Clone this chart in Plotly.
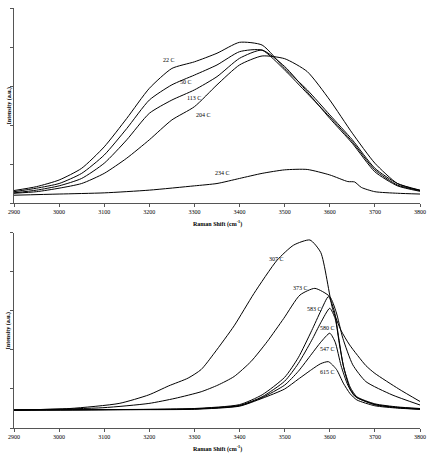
import plotly.graph_objects as go

# ---------------- data (top panel) ----------------
top_x = [2900, 2950, 3000, 3050, 3100, 3150, 3200, 3250, 3300, 3350, 3400, 3450, 3500, 3550, 3600, 3650, 3700, 3750, 3800]
t22 = [0.32, 0.42, 0.59, 0.89, 1.44, 2.17, 2.94, 3.45, 3.62, 3.84, 4.12, 4.05, 3.45, 2.90, 2.26, 1.62, 0.89, 0.50, 0.33]
t50 = [0.29, 0.38, 0.50, 0.76, 1.23, 1.91, 2.64, 3.03, 3.28, 3.54, 3.88, 3.92, 3.41, 2.81, 2.21, 1.57, 0.85, 0.46, 0.32]
t113 = [0.26, 0.33, 0.44, 0.63, 1.02, 1.62, 2.30, 2.64, 2.90, 3.24, 3.71, 3.92, 3.50, 2.85, 2.17, 1.53, 0.80, 0.44, 0.30]
t204 = [0.25, 0.29, 0.38, 0.50, 0.76, 1.15, 1.62, 2.13, 2.47, 3.03, 3.54, 3.77, 3.70, 3.37, 2.64, 1.79, 1.02, 0.50, 0.32]
t234_x = [2900, 3000, 3100, 3200, 3300, 3350, 3400, 3450, 3500, 3550, 3600, 3640, 3655, 3670, 3700, 3750, 3800]
t234 = [0.20, 0.23, 0.26, 0.33, 0.44, 0.50, 0.63, 0.76, 0.85, 0.86, 0.72, 0.55, 0.54, 0.40, 0.29, 0.25, 0.23]
top_names = ["22 C", "50 C", "113 C", "204 C", "234 C"]

# ---------------- data (bottom panel) ----------------
b307_x = [2900, 3024, 3133, 3199, 3243, 3286, 3315, 3344, 3388, 3432, 3483, 3520, 3556, 3580, 3606, 3625, 3644, 3680, 3700, 3753, 3800]
b307 = [0.46, 0.50, 0.63, 0.85, 1.08, 1.28, 1.50, 1.92, 2.62, 3.45, 4.30, 4.69, 4.82, 4.50, 3.07, 2.50, 2.13, 1.60, 1.40, 1.00, 0.68]
b373_x = [2900, 3097, 3199, 3257, 3315, 3352, 3388, 3425, 3461, 3498, 3534, 3567, 3600, 3614, 3629, 3651, 3680, 3738, 3800]
b373 = [0.46, 0.52, 0.63, 0.76, 0.93, 1.10, 1.32, 1.70, 2.21, 2.81, 3.41, 3.58, 3.37, 2.98, 2.30, 1.62, 1.19, 0.85, 0.59]
b583_x = [2900, 3100, 3300, 3400, 3450, 3500, 3530, 3560, 3580, 3597, 3610, 3620, 3630, 3645, 3660, 3700, 3750, 3800]
b583 = [0.46, 0.47, 0.50, 0.60, 0.85, 1.30, 1.80, 2.50, 3.00, 3.37, 3.00, 2.30, 1.60, 1.05, 0.80, 0.62, 0.54, 0.50]
b580_x = [2900, 3100, 3300, 3400, 3450, 3500, 3530, 3560, 3580, 3600, 3612, 3622, 3632, 3645, 3660, 3700, 3750, 3800]
b580 = [0.46, 0.47, 0.49, 0.58, 0.80, 1.20, 1.65, 2.25, 2.70, 3.07, 2.80, 2.10, 1.50, 1.00, 0.78, 0.60, 0.53, 0.49]
b547_x = [2900, 3100, 3300, 3400, 3450, 3500, 3530, 3560, 3580, 3600, 3612, 3625, 3640, 3655, 3700, 3750, 3800]
b547 = [0.46, 0.47, 0.49, 0.57, 0.78, 1.10, 1.45, 1.90, 2.20, 2.43, 2.20, 1.60, 1.10, 0.82, 0.60, 0.52, 0.48]
b615_x = [2900, 3100, 3300, 3400, 3450, 3500, 3530, 3560, 3580, 3597, 3615, 3630, 3645, 3660, 3700, 3750, 3800]
b615 = [0.46, 0.47, 0.48, 0.56, 0.76, 1.00, 1.25, 1.50, 1.65, 1.70, 1.50, 1.15, 0.88, 0.72, 0.57, 0.51, 0.48]
bot_names = ["307 C", "373 C", "583 C", "580 C", "547 C", "615 C"]

x_ticks = [2900, 3000, 3100, 3200, 3300, 3400, 3500, 3600, 3700, 3800]

FONT = "Liberation Serif"
LINE = dict(color="black", width=1, shape="spline", smoothing=0.6)

fig = go.Figure()
top_series = [(top_x, t22), (top_x, t50), (top_x, t113), (top_x, t204), (t234_x, t234)]
for (xs, ys), nm in zip(top_series, top_names):
    fig.add_trace(go.Scatter(x=xs, y=ys, mode="lines", line=LINE, name=nm, xaxis="x", yaxis="y"))
bot_series = [(b307_x, b307), (b373_x, b373), (b583_x, b583), (b580_x, b580), (b547_x, b547), (b615_x, b615)]
for (xs, ys), nm in zip(bot_series, bot_names):
    fig.add_trace(go.Scatter(x=xs, y=ys, mode="lines", line=LINE, name=nm, xaxis="x2", yaxis="y2"))

axis_common = dict(showgrid=False, zeroline=False, showline=True, linecolor="#555",
                   linewidth=1, ticks="outside", ticklen=3, tickcolor="#555")
xaxis_common = dict(axis_common, range=[2900, 3800], tickvals=x_ticks,
                    ticktext=[str(v) for v in x_ticks],
                    tickfont=dict(family=FONT, size=6, color="black"))
yaxis_common = dict(axis_common, range=[0, 5], dtick=1, showticklabels=False)

fig.update_layout(
    width=434, height=461,
    margin=dict(l=10, r=12, t=8, b=33),
    paper_bgcolor="white", plot_bgcolor="white",
    showlegend=False,
    xaxis=dict(xaxis_common, anchor="y", domain=[0, 1]),
    yaxis=dict(yaxis_common, anchor="x", domain=[0.5357, 1]),
    xaxis2=dict(xaxis_common, anchor="y2", domain=[0, 1]),
    yaxis2=dict(yaxis_common, anchor="x2", domain=[0, 0.4643]),
)

ann = []
# series labels (positioned in data coordinates)
top_lbl = [(3243, 3.67, "22 C"), (3282, 3.1, "50 C"), (3300, 2.69, "113 C"), (3319, 2.26, "204 C"), (3362, 0.77, "234 C")]
for x, y, t in top_lbl:
    ann.append(dict(x=x, y=y, xref="x", yref="y", text=t, showarrow=False,
                    font=dict(family=FONT, size=6, color="black")))
bot_lbl = [(3481, 4.33, "307 C"), (3536, 3.58, "373 C"), (3566, 3.05, "583 C"), (3595, 2.57, "580 C"), (3595, 2.03, "547 C"), (3595, 1.44, "615 C")]
for x, y, t in bot_lbl:
    ann.append(dict(x=x, y=y, xref="x2", yref="y2", text=t, showarrow=False,
                    font=dict(family=FONT, size=6, color="black")))
# axis titles
for yp in [0.5357, 0.0]:
    ann.append(dict(x=0.5, y=yp, xref="paper", yref="paper", yshift=-14, yanchor="top",
                    xanchor="center",
                    text="<b>Raman Shift (cm<sup>-1</sup>)</b>", showarrow=False,
                    font=dict(family=FONT, size=6, color="black")))
for yp in [0.7679, 0.2321]:
    ann.append(dict(x=0, y=yp, xref="paper", yref="paper", xshift=-5, textangle=-90,
                    xanchor="center", yanchor="middle",
                    text="<b>Intensity (a.u.)</b>", showarrow=False,
                    font=dict(family=FONT, size=6, color="black")))
fig.update_layout(annotations=ann)

fig.write_html("out.html")
